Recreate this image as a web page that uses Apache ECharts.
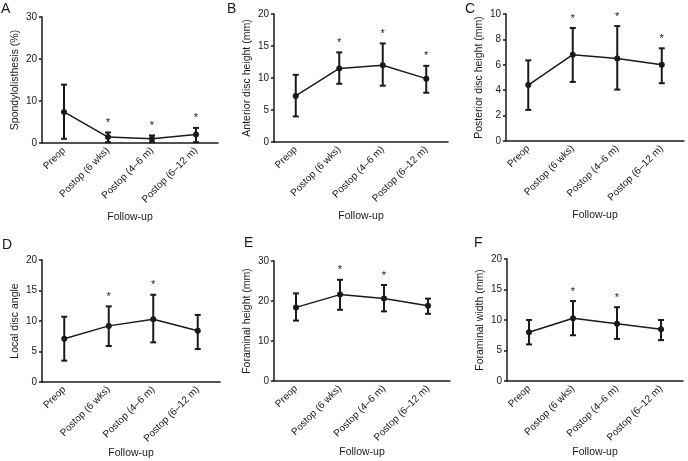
<!DOCTYPE html>
<html>
<head>
    <meta charset='UTF-8'>
    <script src='https://cdn.jsdelivr.net/npm/echarts@6/dist/echarts.min.js'></script>
    <style>
        html, body { margin: 0; padding: 0; background: #fff; }
        #chart { width: 688px; height: 461px; }
    </style>
</head>
<body>
    <div id="chart"></div>
    <script>
        // follow-up time points, shared by every panel
        const categories = ['Preop', 'Postop (6 wks)', 'Postop (4–6 m)', 'Postop (6–12 m)']

        // A - spondylolisthesis (%)
        const spondyMean = [7.4, 1.4, 1.0, 2.0]
        const spondyLow = [1.0, 0.2, 0.2, 0.2]
        const spondyHigh = [13.9, 2.5, 1.8, 3.6]
        const spondySig = [0, 1, 1, 1]

        // B - anterior disc height (mm)
        const anteriorMean = [7.2, 11.5, 12.0, 9.9]
        const anteriorLow = [4.0, 9.1, 8.8, 7.7]
        const anteriorHigh = [10.5, 14.0, 15.4, 11.9]
        const anteriorSig = [0, 1, 1, 1]

        // C - posterior disc height (mm)
        const posteriorMean = [4.4, 6.8, 6.5, 6.0]
        const posteriorLow = [2.45, 4.65, 4.05, 4.55]
        const posteriorHigh = [6.35, 8.9, 9.05, 7.3]
        const posteriorSig = [0, 1, 1, 1]

        // D - local disc angle
        const angleMean = [7.1, 9.2, 10.3, 8.4]
        const angleLow = [3.5, 5.9, 6.5, 5.4]
        const angleHigh = [10.7, 12.4, 14.3, 11.0]
        const angleSig = [0, 1, 1, 0]

        // E - foraminal height (mm)
        const fhMean = [18.4, 21.6, 20.6, 18.8]
        const fhLow = [15.1, 17.8, 17.4, 16.8]
        const fhHigh = [21.9, 25.3, 24.0, 20.6]
        const fhSig = [0, 1, 1, 0]

        // F - foraminal width (mm)
        const fwMean = [8.0, 10.3, 9.4, 8.5]
        const fwLow = [6.0, 7.5, 6.9, 6.7]
        const fwHigh = [10.0, 13.1, 12.1, 10.0]
        const fwSig = [0, 1, 1, 0]

        const yMax = [30, 20, 10, 20, 30, 20]
        const yStep = [10, 5, 2, 5, 10, 5]

        const panels = [
            { letter: 'A', name: 'Spondylolisthesis (%)', mean: spondyMean, low: spondyLow, high: spondyHigh, sig: spondySig },
            { letter: 'B', name: 'Anterior disc height (mm)', mean: anteriorMean, low: anteriorLow, high: anteriorHigh, sig: anteriorSig },
            { letter: 'C', name: 'Posterior disc height (mm)', mean: posteriorMean, low: posteriorLow, high: posteriorHigh, sig: posteriorSig },
            { letter: 'D', name: 'Local disc angle', mean: angleMean, low: angleLow, high: angleHigh, sig: angleSig },
            { letter: 'E', name: 'Foraminal height (mm)', mean: fhMean, low: fhLow, high: fhHigh, sig: fhSig },
            { letter: 'F', name: 'Foraminal width (mm)', mean: fwMean, low: fwLow, high: fwHigh, sig: fwSig }
        ]

        const font = 'Liberation Sans, Arial, sans-serif'
        const ink = '#1a1a1a'

        // grid boxes
        const grids = [
            { left: 42, top: 17, width: 176, height: 126 },
            { left: 274, top: 14, width: 174, height: 128 },
            { left: 506, top: 14, width: 178, height: 127 },
            { left: 42, top: 260, width: 178, height: 122 },
            { left: 274, top: 261, width: 176, height: 120 },
            { left: 507, top: 259, width: 176, height: 122 }
        ]
        const letterPos = [[1, 2], [227, 2], [465, 2], [2, 238], [244, 236], [474, 236]]
        const xNameGap = [69, 69, 69, 66, 66, 66]

        function errorBars(params, api) {
            const x = api.value(0)
            const top = api.coord([x, api.value(2)])
            const bot = api.coord([x, api.value(1)])
            const cap = 3
            const style = { stroke: ink, lineWidth: 2 }
            const children = [
                { type: 'line', shape: { x1: top[0], y1: top[1], x2: bot[0], y2: bot[1] }, style },
                { type: 'line', shape: { x1: top[0] - cap, y1: top[1], x2: top[0] + cap, y2: top[1] }, style },
                { type: 'line', shape: { x1: bot[0] - cap, y1: bot[1], x2: bot[0] + cap, y2: bot[1] }, style }
            ]
            if (api.value(3)) {
                children.push({
                    type: 'text',
                    style: { text: '*', x: top[0], y: top[1] - 4, align: 'center', verticalAlign: 'bottom', fill: ink, font: '11px ' + font }
                })
            }
            return { type: 'group', children }
        }

        const option = {
            backgroundColor: '#fff',
            animation: false,
            textStyle: { fontFamily: font },
            grid: grids,
            graphic: panels.map((p, i) => ({
                type: 'text', left: letterPos[i][0], top: letterPos[i][1],
                style: { text: p.letter, font: '14px ' + font, fill: ink }
            })),
            xAxis: panels.map((p, i) => ({
                type: 'category', gridIndex: i, data: categories,
                name: 'Follow-up', nameLocation: 'middle', nameGap: xNameGap[i],
                nameTextStyle: { fontSize: 10.5, color: ink, fontFamily: font },
                axisLine: { lineStyle: { color: ink, width: 1.5 } },
                axisTick: { alignWithLabel: true, length: 3, lineStyle: { color: ink, width: 1.5 } },
                axisLabel: { rotate: 45, fontSize: 10, color: ink, margin: 6, fontFamily: font, interval: 0 },
                splitLine: { show: false }
            })),
            yAxis: panels.map((p, i) => ({
                type: 'value', gridIndex: i, min: 0, max: yMax[i], interval: yStep[i],
                name: p.name, nameLocation: 'middle', nameGap: 21,
                nameTextStyle: { fontSize: 10.5, color: ink, fontFamily: font },
                axisLine: { show: true, lineStyle: { color: ink, width: 1.5 } },
                axisTick: { show: true, length: 3, lineStyle: { color: ink, width: 1.5 } },
                axisLabel: { fontSize: 10, color: ink, margin: 5, fontFamily: font },
                splitLine: { show: false }
            })),
            series: panels.flatMap((p, i) => [
                {
                    type: 'custom', xAxisIndex: i, yAxisIndex: i,
                    renderItem: errorBars,
                    data: categories.map((c, k) => [k, p.low[k], p.high[k], p.sig[k]]),
                    z: 2
                },
                {
                    type: 'line', xAxisIndex: i, yAxisIndex: i,
                    data: p.mean,
                    symbol: 'circle', symbolSize: 6,
                    itemStyle: { color: ink },
                    lineStyle: { color: ink, width: 1.5 },
                    z: 3
                }
            ])
        }

        const myChart = echarts.init(document.getElementById('chart'))
        myChart.setOption(option)
    </script>
</body>
</html>
